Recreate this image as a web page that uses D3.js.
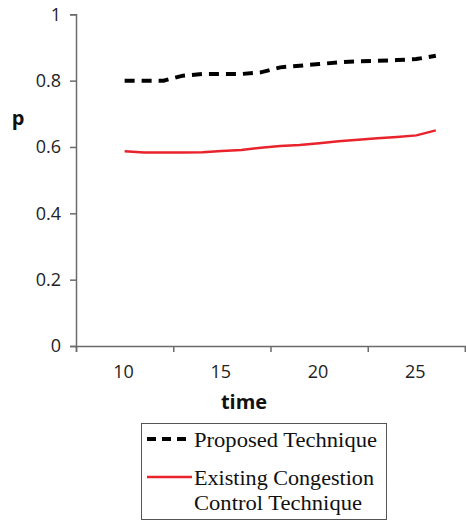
<!DOCTYPE html>
<html><head><meta charset="utf-8">
<script src="https://cdn.jsdelivr.net/npm/d3@7"></script>
<style>body{margin:0;background:#fff}svg{display:block}</style>
</head><body><svg id="c" width="466" height="521"></svg>
<script>
const times = [10,11,12,13,14,15,16,17,18,19,20,21,22,23,24,25,26];
const proposed = [0.80,0.80,0.80,0.815,0.82,0.82,0.82,0.825,0.84,0.845,0.85,0.855,0.858,0.86,0.862,0.865,0.875];
const existing = [0.587,0.583,0.583,0.583,0.584,0.588,0.591,0.598,0.603,0.606,0.611,0.617,0.622,0.626,0.630,0.635,0.650];
const xTickMarks = [7.5,12.5,17.5,22.5,27.5];
const xTickLabels = [10,15,20,25];
const yTicks = [0,0.2,0.4,0.6,0.8,1];
const seriesNames = ["Proposed Technique", ["Existing Congestion","Control Technique"]];

const svg = d3.select("#c");
const x = d3.scaleLinear().domain([7.5,27.5]).range([76,465]);
const y = d3.scaleLinear().domain([0,1]).range([346,14.3]);
const axisColor = "#6b6b6b";
const sans = "'Open Sans', sans-serif";

// y axis
const ya = svg.append("g").attr("transform","translate(76,0)")
  .call(d3.axisLeft(y).tickValues(yTicks).tickSize(6).tickFormat(d=>d===0||d===1?d:d3.format(".1f")(d)));
ya.select(".domain").attr("stroke",axisColor).attr("stroke-width",1.5);
ya.selectAll(".tick line").attr("stroke",axisColor).attr("stroke-width",1.5);
ya.selectAll(".tick text").attr("font-family",sans).attr("font-size",18).attr("fill","#222").attr("x",-15).attr("dy","0.33em");

// x axis
const xa = svg.append("g").attr("transform","translate(0,346)")
  .call(d3.axisBottom(x).tickValues(xTickMarks).tickSize(6).tickFormat(""));
xa.select(".domain").attr("stroke",axisColor).attr("stroke-width",1.5);
xa.selectAll(".tick line").attr("stroke",axisColor).attr("stroke-width",1.5);
svg.append("g").selectAll("text").data(xTickLabels).join("text")
  .attr("x",d=>x(d)-1).attr("y",378).attr("text-anchor","middle")
  .attr("font-family",sans).attr("font-size",18).attr("fill","#222").text(d=>d);

svg.append("text").attr("x",244).attr("y",409).attr("text-anchor","middle")
  .attr("font-family",sans).attr("font-weight","bold").attr("font-size",20).attr("fill","#111").text("time");
svg.append("text").attr("x",18).attr("y",125).attr("text-anchor","middle")
  .attr("font-family",sans).attr("font-weight","bold").attr("font-size",20).attr("fill","#111").text("p");

const line = d3.line().x(d=>x(d[0])).y(d=>y(d[1]));
svg.append("path").datum(times.map((t,i)=>[t,existing[i]])).attr("d",line)
  .attr("fill","none").attr("stroke","#e8232b").attr("stroke-width",2.5);
svg.append("path").datum(times.map((t,i)=>[t,proposed[i]])).attr("d",line)
  .attr("fill","none").attr("stroke","#000").attr("stroke-width",4).attr("stroke-dasharray","10,7");

// legend
const lg = svg.append("g");
lg.append("rect").attr("x",141.5).attr("y",423.5).attr("width",245).attr("height",96)
  .attr("fill","#fff").attr("stroke","#555").attr("stroke-width",1);
const serif = "'Liberation Serif','Times New Roman',serif";
lg.append("line").attr("x1",147).attr("x2",192).attr("y1",439).attr("y2",439)
  .attr("stroke","#000").attr("stroke-width",4).attr("stroke-dasharray","9,6");
lg.append("text").attr("x",194).attr("y",447).attr("font-family",serif).attr("font-size",21).attr("fill","#111")
  .attr("textLength",183).attr("lengthAdjust","spacingAndGlyphs").text(seriesNames[0]);
lg.append("line").attr("x1",147).attr("x2",192).attr("y1",477).attr("y2",477)
  .attr("stroke","#e8232b").attr("stroke-width",2.5);
lg.append("text").attr("x",194).attr("y",485).attr("font-family",serif).attr("font-size",21).attr("fill","#111")
  .attr("textLength",180).attr("lengthAdjust","spacingAndGlyphs").text(seriesNames[1][0]);
lg.append("text").attr("x",194).attr("y",510).attr("font-family",serif).attr("font-size",21).attr("fill","#111")
  .attr("textLength",168).attr("lengthAdjust","spacingAndGlyphs").text(seriesNames[1][1]);
</script></body></html>
